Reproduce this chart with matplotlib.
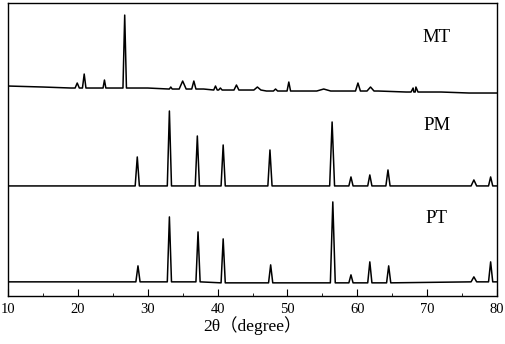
import numpy as np
import matplotlib.pyplot as plt

# XRD patterns, intensity in arbitrary units (stacked with offsets already included)
# baseline points: (2theta, level)
mt_base = [(10, 210), (15, 209), (19, 208), (25, 208), (30, 208), (33, 207), (38, 207),
           (42, 206), (47, 205), (53, 205), (58, 205), (63, 205), (67, 204), (72, 204),
           (76, 203), (80, 203)]
# peaks: (2theta, base level, top level, half width at foot)
mt_peaks = [(19.9, 208, 213, 0.3), (20.9, 208, 222, 0.25), (23.8, 208, 216, 0.2),
            (26.7, 208, 281, 0.25), (33.3, 207, 209, 0.2), (35.0, 207, 215, 0.5),
            (36.6, 207, 215, 0.3), (39.7, 206, 210, 0.25), (40.4, 206, 208, 0.25),
            (42.7, 206, 211, 0.35), (45.7, 206, 209, 0.5), (48.3, 205, 207, 0.3),
            (50.2, 205, 214, 0.25), (55.2, 205, 207, 1.0), (60.1, 205, 213, 0.35),
            (61.9, 205, 209, 0.5), (68.0, 204, 208, 0.3), (68.4, 204, 209, 0.3)]

pm_base = [(10, 110), (80, 110)]
pm_peaks = [(28.5, 110, 139, 0.3), (33.1, 110, 185, 0.3), (37.1, 110, 160, 0.3),
            (40.8, 110, 151, 0.3), (47.5, 110, 146, 0.3), (56.4, 110, 174, 0.35),
            (59.1, 110, 119, 0.3), (61.8, 110, 121, 0.3), (64.4, 110, 126, 0.3),
            (76.7, 110, 116, 0.4), (79.1, 110, 119, 0.3)]

pt_base = [(10, 14), (30, 14), (50, 13), (80, 14)]
pt_peaks = [(28.6, 14, 30, 0.3), (33.1, 14, 79, 0.3), (37.2, 14, 64, 0.3),
            (40.8, 13, 57, 0.3), (47.6, 13, 31, 0.3), (56.5, 13, 94, 0.35),
            (59.1, 13, 21, 0.3), (61.8, 13, 34, 0.3), (64.5, 13, 30, 0.3),
            (76.7, 14, 19, 0.4), (79.1, 14, 34, 0.3)]

labels = ['MT', 'PM', 'PT']
label_y = [259, 170, 77]


def trace(base, peaks):
    pts = list(base)
    for pos, b, top, w in peaks:
        pts += [(pos - w, b), (pos, top), (pos + w, b)]
    pts.sort()
    return [p[0] for p in pts], [p[1] for p in pts]


plt.rcParams['font.family'] = ['Liberation Serif', 'Noto Sans CJK SC']
fig = plt.figure(figsize=(5.05, 3.44), dpi=100)
ax = fig.add_axes([0.016, 0.140, 0.968, 0.851])

for base, peaks in [(mt_base, mt_peaks), (pm_base, pm_peaks), (pt_base, pt_peaks)]:
    x, y = trace(base, peaks)
    ax.plot(x, y, color='black', lw=1.1)

for lab, yy in zip(labels, label_y):
    ax.text(71.4, yy, lab, fontsize=13.5, ha='center', va='center')

ax.set_xlim(10, 80)
ax.set_ylim(0, 293)
ax.set_xticks(np.arange(10, 81, 10))
ax.set_xticks(np.arange(15, 80, 10), minor=True)
ax.set_yticks([])
ax.tick_params(axis='x', which='major', direction='in', length=5, labelsize=10.5, pad=5)
ax.tick_params(axis='x', which='minor', direction='in', length=2.5)
ax.set_xlabel('2θ（degree）', fontsize=12.5, labelpad=0)
for s in ax.spines.values():
    s.set_linewidth(1.0)

fig.savefig('out.png', dpi=100)
